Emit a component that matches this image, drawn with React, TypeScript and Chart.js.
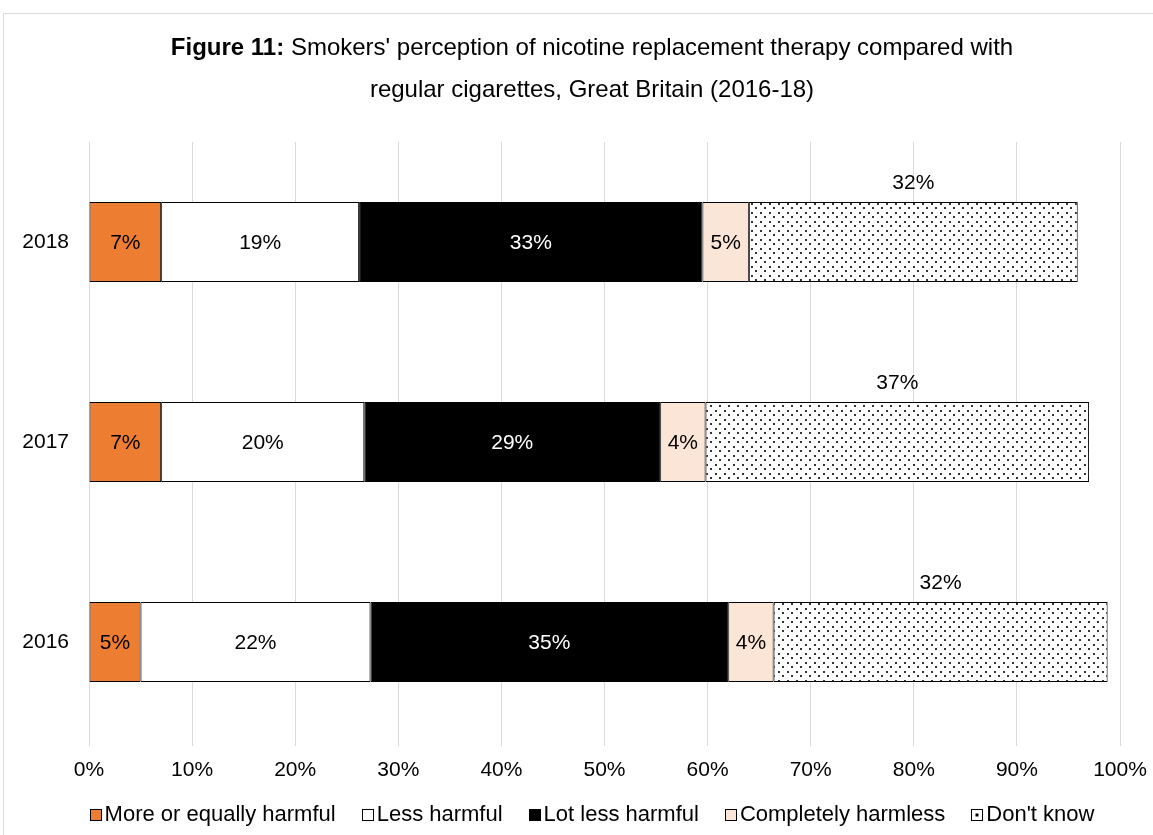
import React, { useEffect, useRef } from "react";
import { Chart, registerables } from "chart.js";

Chart.register(...registerables);

const categories = ["2018", "2017", "2016"];
const seriesNames = [
  "More or equally harmful",
  "Less harmful",
  "Lot less harmful",
  "Completely harmless",
  "Don't know",
];
const moreHarmful = [7.0, 7.0, 5.0];
const lessHarmful = [19.2, 19.7, 22.3];
const lotLessHarmful = [33.3, 28.7, 34.7];
const completelyHarmless = [4.5, 4.4, 4.4];
const dontKnow = [31.9, 37.2, 32.4];
const xTicks = [0, 10, 20, 30, 40, 50, 60, 70, 80, 90, 100];
const titleBold = "Figure 11:";
const titleRest = " Smokers' perception of nicotine replacement therapy compared with";
const titleLine2 = "regular cigarettes, Great Britain (2016-18)";

const FONT = "'Liberation Sans', Arial, sans-serif";

function makeDots(): CanvasPattern | string {
  const c = document.createElement("canvas");
  c.width = 9;
  c.height = 9;
  const g = c.getContext("2d");
  if (!g) return "#fff";
  g.fillStyle = "#fff";
  g.fillRect(0, 0, 9, 9);
  g.fillStyle = "#333";
  g.fillRect(1, 1, 2, 2);
  g.fillRect(5, 5, 2, 2);
  return g.createPattern(c, "repeat") || "#fff";
}

export default function App() {
  const ref = useRef<HTMLCanvasElement | null>(null);

  useEffect(() => {
    const canvas = ref.current;
    if (!canvas) return;
    const dots = makeDots();
    const colors = ["#ed7d31", "#ffffff", "#000000", "#fbe5d6", dots];
    const values = [moreHarmful, lessHarmful, lotLessHarmful, completelyHarmless, dontKnow];

    const bgPlugin = {
      id: "bgTitle",
      beforeDraw(chart: any) {
        const ctx = chart.ctx;
        ctx.save();
        ctx.fillStyle = "#fff";
        ctx.fillRect(0, 0, chart.width, chart.height);
        ctx.strokeStyle = "#d9d9d9";
        ctx.lineWidth = 1;
        ctx.strokeRect(0.5, 0.5, chart.width - 1, chart.height - 1);
        const cx = chart.width / 2;
        ctx.textBaseline = "middle";
        ctx.fillStyle = "#000";
        ctx.font = `bold 24px ${FONT}`;
        const wb = ctx.measureText(titleBold).width;
        ctx.font = `24px ${FONT}`;
        const wr = ctx.measureText(titleRest).width;
        const start = cx - (wb + wr) / 2;
        ctx.textAlign = "left";
        ctx.font = `bold 24px ${FONT}`;
        ctx.fillText(titleBold, start, 35);
        ctx.font = `24px ${FONT}`;
        ctx.fillText(titleRest, start + wb, 35);
        ctx.textAlign = "center";
        ctx.fillText(titleLine2, cx, 77);
        ctx.restore();
      },
    };

    const labelPlugin = {
      id: "barLabels",
      afterDatasetsDraw(chart: any) {
        const ctx = chart.ctx;
        ctx.save();
        ctx.font = `21px ${FONT}`;
        ctx.textAlign = "center";
        ctx.textBaseline = "middle";
        chart.data.datasets.forEach((ds: any, di: number) => {
          const meta = chart.getDatasetMeta(di);
          meta.data.forEach((bar: any, i: number) => {
            const v = ds.data[i];
            const txt = Math.round(v) + "%";
            const cx = (bar.x + bar.base) / 2;
            let cy = bar.y + 1;
            if (di === 4) {
              cy = bar.y - bar.height / 2 - 19;
            }
            ctx.fillStyle = di === 2 ? "#fff" : "#000";
            ctx.fillText(txt, cx, cy);
          });
        });
        ctx.restore();
      },
    };

    const legendPlugin = {
      id: "customLegend",
      afterDraw(chart: any) {
        const ctx = chart.ctx;
        ctx.save();
        ctx.font = `22px ${FONT}`;
        ctx.textBaseline = "middle";
        ctx.textAlign = "left";
        const box = 11;
        const gap = 4;
        const spacing = 26;
        const items = chart.data.datasets.map((ds: any) => ({
          text: ds.label,
          color: ds.backgroundColor,
          w: ctx.measureText(ds.label).width,
        }));
        const total =
          items.reduce((s: number, it: any) => s + box + gap + it.w, 0) + spacing * (items.length - 1);
        let x = chart.width / 2 - total / 2;
        const y = 801;
        items.forEach((it: any, i: number) => {
          const bx = Math.round(x) + 0.5;
          const by = Math.round(y - box / 2) + 0.5;
          if (i === 4) {
            ctx.fillStyle = "#fff";
            ctx.fillRect(bx, by, box, box);
            ctx.fillStyle = "#000";
            ctx.fillRect(bx + 4, by + 4, 3, 3);
          } else {
            ctx.fillStyle = it.color;
            ctx.fillRect(bx, by, box, box);
          }
          ctx.strokeStyle = "#000";
          ctx.lineWidth = 1;
          ctx.strokeRect(bx, by, box, box);
          ctx.fillStyle = "#000";
          ctx.fillText(it.text, x + box + gap, y + 1);
          x += box + gap + it.w + spacing;
        });
        ctx.restore();
      },
    };

    const chart = new Chart(canvas, {
      type: "bar",
      data: {
        labels: categories,
        datasets: seriesNames.map((name, i) => ({
          label: name,
          data: values[i],
          backgroundColor: colors[i] as any,
          borderColor: "#000",
          borderWidth: 1,
          borderSkipped: false,
          barPercentage: 0.4,
          categoryPercentage: 1.0,
        })),
      },
      options: {
        indexAxis: "y",
        responsive: false,
        animation: false,
        layout: { padding: { top: 129, left: 0, right: 61, bottom: 59 } },
        scales: {
          x: {
            stacked: true,
            min: 0,
            max: 100,
            afterBuildTicks(scale: any) {
              scale.ticks = xTicks.map((v) => ({ value: v }));
            },
            afterFit(scale: any) {
              scale.height = 52;
            },
            grid: { color: "#d9d9d9", drawTicks: true, tickLength: 4, tickColor: "#d9d9d9" },
            border: { display: false },
            ticks: {
              padding: 12,
              color: "#000",
              font: { size: 21, family: FONT },
              callback: (v: any) => v + "%",
              maxRotation: 0,
            },
          },
          y: {
            stacked: true,
            afterFit(scale: any) {
              scale.width = 86;
            },
            grid: { display: false, drawTicks: false },
            border: { display: false },
            ticks: { padding: 20, color: "#000", font: { size: 21, family: FONT } },
          },
        },
        plugins: {
          title: { display: false },
          tooltip: { enabled: false },
          legend: { display: false },
        },
      },
      plugins: [bgPlugin, labelPlugin, legendPlugin],
    } as any);
    return () => chart.destroy();
  }, []);

  return (
    <div
      style={{
        position: "fixed",
        left: 0,
        top: 0,
        width: 1153,
        height: 835,
        overflow: "hidden",
        background: "#fff",
      }}
    >
      <div style={{ position: "absolute", left: 3, top: 13 }}>
        <canvas ref={ref} width={1178} height={840} style={{ display: "block" }} />
      </div>
    </div>
  );
}
